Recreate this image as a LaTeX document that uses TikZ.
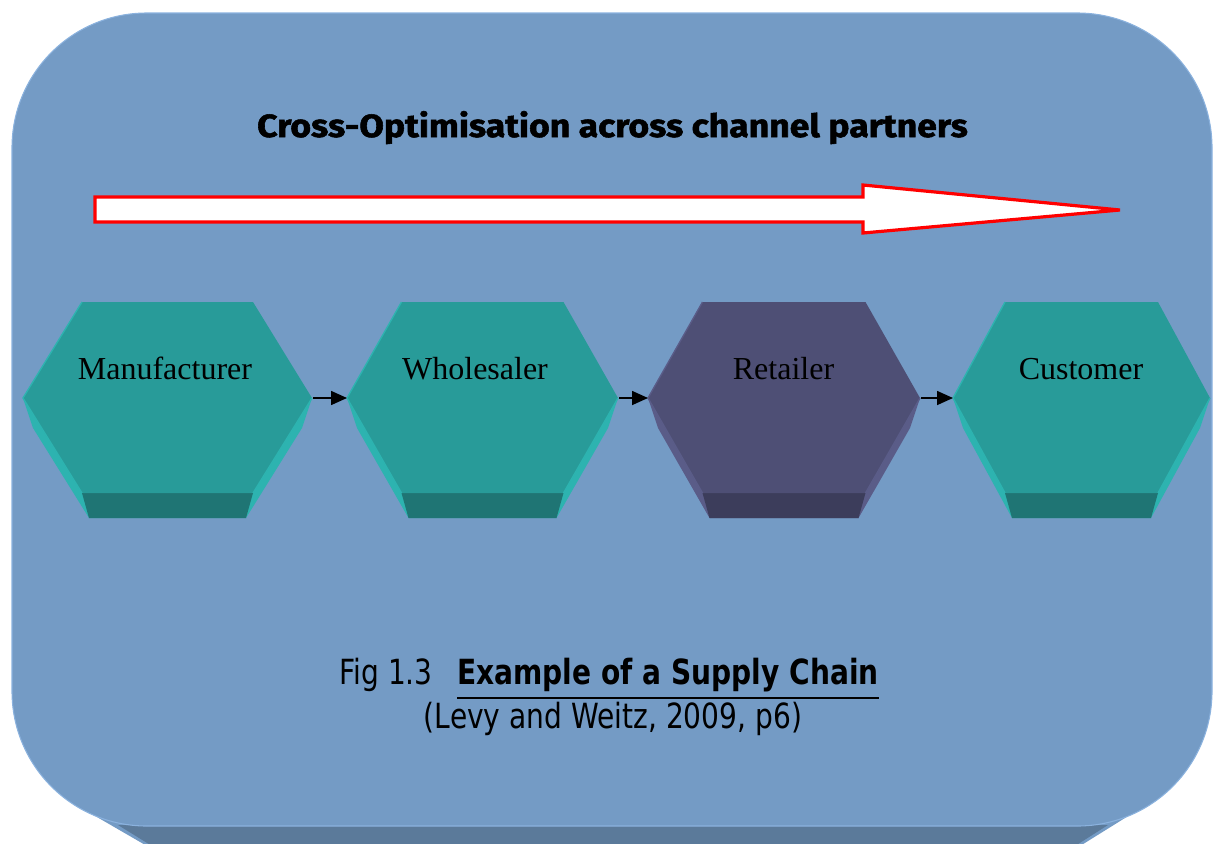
\documentclass[tikz,border=0pt]{standalone}
\usepackage{fontspec}
\usepackage{graphicx}
\usetikzlibrary{arrows.meta}
\setmainfont{Liberation Serif}
\newfontfamily\titlefont{Fira Sans}[BoldFeatures={FakeBold=1.6}]
\newfontfamily\capfont{DejaVu Sans}[FakeStretch=0.81]

\definecolor{slab}{HTML}{749BC5}
\definecolor{slabband}{HTML}{5B7A9A}
\definecolor{slabedge}{HTML}{8BB2DE}
\definecolor{tealface}{HTML}{289B99}
\definecolor{tealside}{HTML}{2DB3B0}
\definecolor{tealband}{HTML}{1F7574}
\definecolor{navyface}{HTML}{4E4F75}
\definecolor{navyside}{HTML}{5A5C88}
\definecolor{navyband}{HTML}{3C3D5B}

\tikzset{
  hexlabel/.style={anchor=base, inner sep=0pt, font=\fontsize{24}{28}\selectfont},
  captext/.style={inner sep=0pt, font=\capfont\fontsize{26}{30}\selectfont},
  flow/.style={-{Triangle[length=12pt,width=10.5pt]}, line width=1.2pt},
  bigarrow/.style={fill=white, draw=red, line width=2.4pt, line join=miter},
}

% hexagonal prism: name, centre x, half width, half top edge,
% face, side and front colours, label, label x
\newcommand\hexprism[9]{%
  \fill[#6] (#2-#3,398) -- (#2-#3+10,428) -- (#2-#4+7,518) -- (#2+#4-7,518)
            -- (#2+#3-10,428) -- (#2+#3,398) -- cycle;
  \fill[#7] (#2-#4,493) -- (#2-#4+7,518) -- (#2+#4-7,518) -- (#2+#4,493) -- cycle;
  \fill[#5] (#2-#3,398) -- (#2-#4,302) -- (#2+#4,302) -- (#2+#3,398)
            -- (#2+#4,493) -- (#2-#4,493) -- cycle;
  \draw[#6, line width=1pt] (#2-#4,493) -- (#2-#3,398) -- (#2-#4,302);
  \draw[#6, line width=1pt] (#2+#3,398) -- (#2+#4,493);
  \coordinate (#1-w) at (#2-#3,398);
  \coordinate (#1-e) at (#2+#3,398);
  \node[hexlabel] (#1) at (#9,379) {#8};
}

\begin{document}
\begin{tikzpicture}[x=0.75pt,y=-0.75pt]
\useasboundingbox (0,0) rectangle (1214,843);

% background slab with its front edge
\begin{scope}
  \clip (0,0) rectangle (1214,843);
  \fill[slab] (90,813) -- (147,846) -- (1080,846) -- (1133,813) -- cycle;
  \fill[slabband] (118,825) -- (152,846) -- (1075,846) -- (1108,825) -- cycle;
  \fill[slab, draw=slabedge, line width=0.8pt, rounded corners=101pt]
    (12,13) rectangle (1212,826);
\end{scope}

% heading
\node[anchor=base, inner sep=0pt] (head) at (612.5,137)
  {\resizebox{533pt}{19.5pt}{\titlefont\bfseries Cross-Optimisation across channel partners}};

% wide arrow across the partners
\draw[bigarrow] (95,197) -- (863,197) -- (863,185) -- (1120,210)
  -- (863,233) -- (863,222) -- (95,222) -- cycle;

% the chain
\hexprism{man}{167.5}{144.5}{85.5}{tealface}{tealside}{tealband}{Manufacturer}{165}
\hexprism{who}{482.5}{135.5}{81}{tealface}{tealside}{tealband}{Wholesaler}{475}
\hexprism{ret}{784}{136}{81.5}{navyface}{navyside}{navyband}{Retailer}{783.5}
\hexprism{cus}{1081.5}{128.5}{76.5}{tealface}{tealside}{tealband}{Customer}{1081}

\draw[flow] ([xshift=1pt]man-e) -- (who-w);
\draw[flow] ([xshift=1pt]who-e) -- (ret-w);
\draw[flow] ([xshift=1pt]ret-e) -- (cus-w);

% caption
\node[captext, anchor=base west, font=\capfont\fontsize{26}{30}\selectfont\bfseries] (ex) at (457,684)
  {Example of a Supply Chain};
\node[captext, anchor=base east] (fig) at ([xshift=-18pt]ex.base west) {Fig 1.3};
\draw[line width=2.2pt] ([yshift=-10.5pt]ex.base west) -- ([yshift=-10.5pt]ex.base east);
\node[captext, anchor=base] (src) at (613,728) {(Levy and Weitz, 2009, p6)};
\end{tikzpicture}
\end{document}
